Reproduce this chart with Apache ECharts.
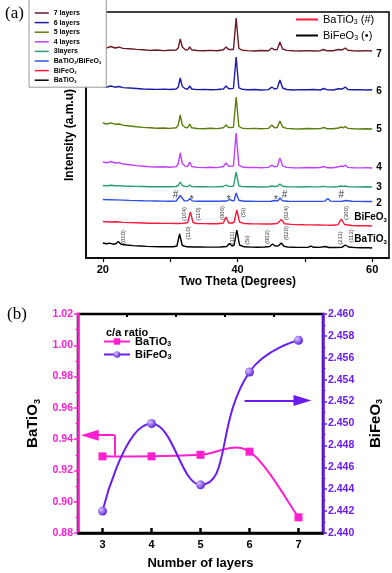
<!DOCTYPE html>
<html><head><meta charset="utf-8">
<script src="https://cdn.jsdelivr.net/npm/echarts@6/dist/echarts.min.js"></script>
<style>html,body{margin:0;padding:0;background:#fff}#c{width:392px;height:573px}</style>
</head><body><div id="c"></div>
<script>
// ---------- (a) XRD patterns ----------
const layerTheta = [20,20.6,21.2,21.8,22.4,23,24,25,26,27,28,29,30,30.9,31.2,31.5,31.8,32.3,32.6,32.9,33.2,34,35,36,37,37.9,38.3,38.7,39.4,39.8,40.2,40.7,41.5,42.5,43.5,44.6,45.1,45.5,45.9,46.3,46.7,47.3,48.3,49.3,50.3,51.3,52.3,52.8,53.3,54.2,55.0,55.4,55.7,56.0,56.4,57.2,58.2,59.1,60];
const int7 = [4,3.2,4.5,3,3.8,2.6,2.2,1.6,1.2,0.6,1,0.4,0.8,1,3,12,4,1,1.2,4,1.2,0.5,0.2,0.6,0.3,1.2,4,1.5,1.5,33,2.5,0.8,0.4,0,0.5,0.3,3,1.2,1.5,9,2,0.6,0.2,0,0.4,0,0.3,1.5,0.2,0.3,1.5,1,1.6,3,0.8,0.3,0,0.4,0];
const int6 = [3.5,3,4,2.8,3.5,2.4,2,1.5,1,0.8,0.6,0.9,0.5,1,3,12,3.5,1,1,4,1,0.4,0.6,0.2,0.5,1,4,1.2,1.6,33,2.2,0.8,0.3,0.5,0,0.4,3,1,1.6,10,2,0.5,0,0.4,0.2,0.5,0,1.5,0.3,0,1.2,1,1.5,3,0.5,0.2,0.4,0,0.3];
const int5 = [6,5,6.2,4.8,5,3.8,3,2.2,1.6,1.2,0.8,1,0.6,1.2,4,14,4,1.2,1.4,5,1.2,0.5,0.3,0.7,0.4,1.3,4,1.4,1.8,32,2.5,0.8,0.4,0.6,0.2,0.6,4,1.2,1.5,8,2,0.6,0.2,0,0.5,0.2,0.4,1.5,0.3,0.2,1,2,1.2,2.5,0.6,0.3,0,0.3,0];
const int4 = [6,5.2,6.5,5,5.4,4,3.2,2.4,1.8,1.2,1,1.2,0.7,1.4,4.5,15,4.5,1.4,1.6,6,1.5,0.6,0.4,0.8,0.4,1.5,5,1.6,2,35,2.8,1,0.5,0.6,0.2,0.6,3,1.2,1.6,10,2.2,0.6,0.2,0.1,0.5,0.2,0.5,1.5,0.3,0.2,1.2,2,1.4,3,0.6,0.3,0.1,0.4,0];
const int3 = [1.5,1.2,1.8,1.2,1.4,1,0.8,0.6,0.5,0.3,0.4,0.2,0.3,0.5,1.5,5,1.5,0.4,0.5,2,0.5,0.2,0.3,0.1,0.3,0.5,2,0.6,0.8,15,1.2,0.4,0.2,0.3,0,0.2,1,0.5,0.6,3,0.8,0.3,0.1,0,0.2,0.1,0.2,0.6,0.1,0,0.5,1,0.6,1,0.3,0.1,0,0.2,0];
const theta2 = [20,21,22,23,24,25,26,27,28,29,30,30.9,31.5,32.1,32.6,32.9,33.3,34,35,36,37,38.4,38.8,39.2,39.5,39.8,40.2,41,42,43,44,45,45.5,46,46.3,46.7,47.5,48.5,49.5,50.5,51.5,52.5,53.0,53.4,53.8,54.5,55.5,56.2,57,58,59,60];
const int2 = [2,1.8,1.6,1.4,1.1,0.9,0.7,0.6,0.5,0.4,0.3,0.5,6,0.8,0.6,3,0.6,0.3,0.2,0.2,0.2,0.5,2,0.8,1,8.5,1.2,0.3,0.2,0.1,0.1,0.3,1,0.7,3.5,0.8,0.2,0.1,0.1,0.1,0.1,0.1,0.4,3,0.4,0.1,0.2,1,0.2,0.1,0,0];
const thetaBFO = [20,21,22,23,24,25,26,27,28,29,30,31,32,32.6,33.0,33.4,34,35,36,37,37.9,38.3,38.7,39.2,39.5,39.9,40.3,41,42,43,44,45,45.9,46.5,47.0,48,49,50,51,52,53,54,54.9,55.4,55.9,57,58,59,60];
const intBFO = [4.5,4,4.2,3.6,3.4,3.2,3,2.8,2.7,2.6,2.6,2.5,2.8,3.5,14,3.5,2.5,2.4,2.3,2.3,3,9,3,3,4,16,4,2.4,2.2,2.1,2,2,2.5,6.5,2.2,1.6,1.4,1.2,1.1,1,0.9,0.8,1.2,7,1.5,0.5,0.3,0.2,0];
const thetaBTO = [20,20.5,21,21.5,22,22.3,22.7,23.5,24.5,25.5,26.5,27.5,28.5,29.5,30.5,31.0,31.4,31.8,32.5,33.5,34.5,35.5,36.5,37.5,38.4,38.8,39.2,39.5,39.9,40.3,41,42,43,44,44.8,45.2,45.6,46.1,46.5,46.9,47.5,48.5,49.5,50.5,50.9,51.3,52.2,53,53.6,54.5,55.5,56.0,56.5,57.5,58.5,59.5,60];
const intBTO = [5,4.2,4.8,3.8,4.5,6.5,3.8,3,2.4,2,1.6,1.4,1.2,1.2,1.2,2,14,2.5,1.2,1,1,0.9,0.9,1,1.5,4.5,2,3,18,3,1.2,0.9,0.8,1,1.5,4,2,2.2,5,1.8,0.9,0.7,0.6,0.8,1.8,0.7,0.6,1.5,0.5,0.5,0.7,3,1,0.4,0.3,0.2,0];

const traceNames = ['7 layers','6 layers','5 layers','4 layers','3layers','BaTiO3/BiFeO3','BiFeO3','BaTiO3'];
const traceTags = ['7','6','5','4','3','2','BiFeO3','BaTiO3'];
const traceOffsets = [207,168,129,90,71,56.5,32,10];
const xTickLabels = [20,40,60];

// phase markers above the composite pattern
const phaseMarkText = ['#','*','*','*','#','#'];
const phaseMarkTheta = [30.8,33.2,38.7,45.7,47.0,55.4];
const phaseMarkLevel = [63,58,58,58,63,63];
// Miller indices
const bfoHkl = ['(104)','(110)','(006)','(Si)','(024)','(300)'];
const bfoHklTheta = [32.1,34.2,37.8,40.8,47.3,56.1];
const bfoHklLevel = [44,44,45,45.5,45,45];
const btoHkl = ['(010)','(110)','(111)','(Si)','(002)','(020)','(211)','(112)'];
const btoHklTheta = [23.0,32.7,39.2,41.4,44.5,47.3,55.3,56.9];
const btoHklLevel = [21,25,20,18,21,25,20,22];

// ---------- (b) c/a ratio ----------
const layers = [3,4,5,6,7];
const caBaTiO3 = [0.929,0.929,0.930,0.932,0.890];
const caBiFeO3 = [2.442,2.450,2.4444,2.4547,2.4576];

// ---------- styling ----------
const F = '"Liberation Sans", Arial, sans-serif';
const PINK = '#ff1fcf', PURPLE = '#6a1cf0';
const traceColors = ['#6b1a24','#1c1ca8','#5b7f0c','#c040ff','#2a9d78','#2f4fe8','#ff1a3c','#000000'];
const endOffsets = [[0,3],[0,2],[0,0],[0,-1],[0,0],[0,1.5],[-22,-9],[-22,-9]];
const subify = s => s.replace(/O3/g,'O{s|3}');
const subRich = fs => ({ s: { fontSize: Math.round(fs*0.62), fontFamily: F, fontWeight: 'bold', padding: [Math.round(fs*0.55),0,0,0] } });

const traceThetas = [layerTheta,layerTheta,layerTheta,layerTheta,layerTheta,theta2,thetaBFO,thetaBTO];
const traceInts = [int7,int6,int5,int4,int3,int2,intBFO,intBTO];

const series = [];
traceNames.forEach((name,k) => {
  series.push({
    type:'line', name, xAxisIndex:0, yAxisIndex:0, symbol:'none', z:3,
    data: traceThetas[k].map((t,i) => [t, traceInts[k][i] + traceOffsets[k]]),
    lineStyle:{color:traceColors[k], width:1.4}, itemStyle:{color:traceColors[k]},
    endLabel:{show:true, formatter: subify(traceTags[k]), offset:endOffsets[k], distance:4,
      color:'#000', fontFamily:F, fontWeight:'bold', fontSize: 10, rich: subRich(10)}
  });
});
// legend-only entries
series.push({type:'line', name:'BaTiO3 (#)', xAxisIndex:0, yAxisIndex:0, data:[], symbol:'none', lineStyle:{color:'#ff1a3c', width:1.5}, itemStyle:{color:'#ff1a3c'}});
series.push({type:'line', name:'BiFeO3 (•)', xAxisIndex:0, yAxisIndex:0, data:[], symbol:'none', lineStyle:{color:'#000', width:1.5}, itemStyle:{color:'#000'}});

const textScatter = (texts, thetas, levels, opts) => ({
  type:'scatter', xAxisIndex:0, yAxisIndex:0, symbolSize:0, silent:true, z:4,
  data: texts.map((t,i) => [thetas[i], levels[i], t]),
  label: Object.assign({show:true, position:'inside', formatter: p => p.data[2], color:'#000', fontFamily:F}, opts)
});
series.push(textScatter(phaseMarkText, phaseMarkTheta, phaseMarkLevel, {fontSize:10}));
series.push(textScatter(bfoHkl, bfoHklTheta, bfoHklLevel, {fontSize:6, rotate:90}));
series.push(textScatter(btoHkl, btoHklTheta, btoHklLevel, {fontSize:6, rotate:90}));

// (b) BaTiO3 spline curve (Catmull-Rom through the data points, drawn via the axes' scales)
series.push({
  type:'custom', xAxisIndex:1, yAxisIndex:1, silent:true, z:2,
  data: layers.map((l,i)=>[l, caBaTiO3[i]]),
  encode:{x:0, y:1},
  renderItem: (params, api) => {
    if (params.dataIndex !== 0) return null;
    const P = layers.map((l,i) => api.coord([l, caBaTiO3[i]]));
    const n = P.length;
    let d = 'M' + P[0][0] + ' ' + P[0][1];
    for (let i = 0; i < n-1; i++) {
      const p0 = P[Math.max(i-1,0)], p1 = P[i], p2 = P[i+1], p3 = P[Math.min(i+2,n-1)];
      const c1 = [p1[0] + (p2[0]-p0[0])/6, p1[1] + (p2[1]-p0[1])/6];
      const c2 = [p2[0] - (p3[0]-p1[0])/6, p2[1] - (p3[1]-p1[1])/6];
      d += ' C' + c1[0] + ' ' + c1[1] + ' ' + c2[0] + ' ' + c2[1] + ' ' + p2[0] + ' ' + p2[1];
    }
    return {type:'path', shape:{pathData:d}, style:{stroke:PINK, lineWidth:2, fill:'none'}};
  }
});
series.push({
  type:'line', name:'c/a BaTiO3', xAxisIndex:1, yAxisIndex:1, z:3,
  data: layers.map((l,i)=>[l, caBaTiO3[i]]),
  symbol:'rect', symbolSize:8, lineStyle:{color:PINK, width:2, opacity:0}, itemStyle:{color:PINK},
  markLine:{silent:true, symbol:['none','none'], label:{show:false}, lineStyle:{color:PINK, width:2, type:'solid', opacity:1},
    data:[
      [{coord:[3.25,0.9295]},{coord:[3.25,0.9425]}],
      [{coord:[3.25,0.9425]},{coord:[2.74,0.9425], symbol:'triangle', symbolSize:[11,18]}]
    ]}
});
series.push({
  type:'line', name:'c/a BiFeO3', xAxisIndex:1, yAxisIndex:2, smooth:0.5, z:3,
  data: layers.map((l,i)=>[l, caBiFeO3[i]]),
  symbol:'circle', symbolSize:9, lineStyle:{color:PURPLE, width:2},
  itemStyle:{color:{type:'radial', x:0.35, y:0.35, r:0.75, colorStops:[{offset:0,color:'#d8c4ff'},{offset:1,color:'#5010d8'}]}},
  markLine:{silent:true, symbol:['none','none'], label:{show:false}, lineStyle:{color:PURPLE, width:2, type:'solid'},
    data:[[{coord:[5.9,2.4521]},{coord:[7.08,2.4521], symbol:'triangle', symbolSize:[11,18]}]]}
});
// minor ticks helper
const minorX = [3.5,4.5,5.5,6.5];

const option = {
  animation:false,
  backgroundColor:'#fff',
  title:[
    {text:'(a)', left:0, top:0, textStyle:{fontFamily:'"Liberation Serif", "DejaVu Serif", serif', fontSize:17, fontWeight:'normal', color:'#000'}},
    {text:'(b)', left:2, top:301, textStyle:{fontFamily:'"Liberation Serif", "DejaVu Serif", serif', fontSize:17, fontWeight:'normal', color:'#000'}},
    {text:'c/a ratio', left:101, top:322, textStyle:{fontFamily:F, fontSize:11, fontWeight:'bold', color:'#000'}}
  ],
  grid:[
    {left:86, top:12, width:303, height:246, show:true, borderColor:'#000', borderWidth:1.5, backgroundColor:'transparent'},
    {left:78, top:314, width:255, height:219, show:true, borderColor:'#000', borderWidth:2.5, backgroundColor:'transparent'}
  ],
  legend:[
    {data:traceNames, orient:'vertical', left:29, top:-1, itemWidth:14, itemHeight:6, itemGap:1.6,
     backgroundColor:'#fff', borderColor:'#999', borderWidth:1, padding:[10,5,3,5], z:10,
     itemStyle:{opacity:0}, lineStyle:{width:1.5},
     formatter: subify, textStyle:{fontFamily:F, fontWeight:'bold', fontSize:7, color:'#000', lineHeight:8, rich: subRich(7)}},
    {data:['BaTiO3 (#)','BiFeO3 (•)'], orient:'vertical', left:293, top:12, itemWidth:22, itemHeight:8, itemGap:4, padding:2,
     itemStyle:{opacity:0},
     formatter: subify, textStyle:{fontFamily:F, fontSize:11, color:'#000', rich: {s:{fontSize:7,fontFamily:F,padding:[6,0,0,0]}}}},
    {data:[{name:'c/a BaTiO3', lineStyle:{color:PINK, width:2, opacity:1}}, 'c/a BiFeO3'], orient:'vertical', left:103, top:336, itemWidth:26, itemHeight:8, itemGap:1, padding:0,
     formatter: n => subify(n.replace('c/a ','')), textStyle:{fontFamily:F, fontWeight:'bold', fontSize:11, color:'#000', rich: subRich(11)}}
  ],
  xAxis:[
    {type:'value', gridIndex:0, min:17.5, max:62.5, splitLine:{show:false},
     axisLine:{lineStyle:{color:'#000', width:1.5}},
     axisTick:{customValues:[20,30,40,50,60], length:4, lineStyle:{color:'#000', width:1.2}},
     axisLabel:{customValues:xTickLabels, fontFamily:F, fontWeight:'bold', fontSize:11, color:'#000', margin:6},
     name:'Two Theta (Degrees)', nameLocation:'middle', nameGap:18, nameTextStyle:{fontFamily:F, fontWeight:'bold', fontSize:12, color:'#000'}},
    {type:'value', gridIndex:1, min:2.5, max:7.5, splitLine:{show:false},
     axisLine:{lineStyle:{color:'#000', width:2.5}},
     axisTick:{customValues:layers, inside:true, length:5, lineStyle:{color:'#000', width:2.5}},
     axisLabel:{customValues:layers, fontFamily:F, fontWeight:'bold', fontSize:11, color:'#000', margin:6},
     name:'Number of layers', nameLocation:'middle', nameGap:24, nameTextStyle:{fontFamily:F, fontWeight:'bold', fontSize:13, color:'#000'}},
    {type:'value', gridIndex:1, min:2.5, max:7.5, splitLine:{show:false}, axisLine:{show:false}, axisLabel:{show:false},
     axisTick:{customValues:minorX, inside:true, length:3, lineStyle:{color:'#000', width:2}}}
  ],
  yAxis:[
    {type:'value', gridIndex:0, min:0, max:246, splitLine:{show:false}, axisTick:{show:false}, axisLabel:{show:false},
     axisLine:{show:true, lineStyle:{color:'#000', width:1.5}},
     name:'Intensity (a.m.u)', nameLocation:'middle', nameGap:10, nameRotate:90, nameTextStyle:{fontFamily:F, fontWeight:'bold', fontSize:12, color:'#000'}},
    {type:'value', gridIndex:1, min:0.88, max:1.02, interval:0.02, splitLine:{show:false},
     axisLine:{show:true, lineStyle:{color:PINK, width:2.5}},
     axisTick:{length:4, lineStyle:{color:PINK, width:1.5}},
     minorTick:{show:true, splitNumber:2, length:2.5, lineStyle:{color:PINK, width:1.2}},
     axisLabel:{formatter:v=>v.toFixed(2), fontFamily:F, fontWeight:'bold', fontSize:10.5, color:PINK, margin:5},
     name:'BaTiO{s|3}', nameLocation:'middle', nameGap:34, nameRotate:90,
     nameTextStyle:{fontFamily:F, fontWeight:'bold', fontSize:15, color:'#000', rich: subRich(15)}},
    {type:'value', gridIndex:1, position:'right', min:2.44, max:2.46, interval:0.002, splitLine:{show:false},
     axisLine:{show:true, lineStyle:{color:PURPLE, width:2.5}},
     axisTick:{length:4, lineStyle:{color:PURPLE, width:1.5}},
     minorTick:{show:true, splitNumber:2, length:2.5, lineStyle:{color:PURPLE, width:1.2}},
     axisLabel:{formatter:v=>v.toFixed(3), fontFamily:F, fontWeight:'bold', fontSize:10.5, color:PURPLE, margin:5},
     name:'BiFeO{s|3}', nameLocation:'middle', nameGap:44, nameRotate:90,
     nameTextStyle:{fontFamily:F, fontWeight:'bold', fontSize:15, color:'#000', rich: subRich(15)}}
  ],
  series
};
echarts.init(document.getElementById('c'), null, {renderer:'canvas'}).setOption(option);
</script></body></html>
